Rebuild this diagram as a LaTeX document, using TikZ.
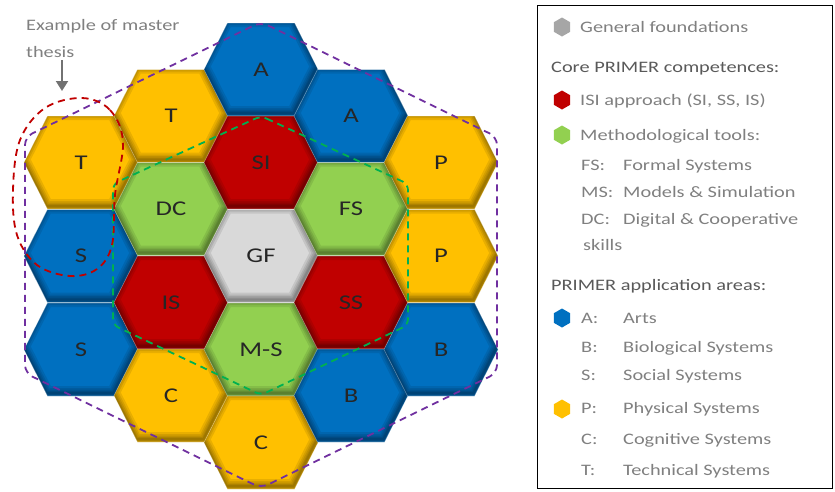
\documentclass[tikz,border=0pt]{standalone}
\usepackage{fontspec}
\setmainfont{Carlito}[FakeStretch=1.27]
\usetikzlibrary{arrows.meta,shapes.geometric}
\definecolor{hblue}{HTML}{0070C0}
\definecolor{hred}{HTML}{C00000}
\definecolor{hgreen}{HTML}{92D050}
\definecolor{hyellow}{HTML}{FFC000}
\definecolor{hgrey}{HTML}{D9D9D9}
\definecolor{lgrey}{HTML}{A6A6A6}
\definecolor{txtgrey}{HTML}{808080}
\definecolor{dkgrey}{HTML}{595959}
\definecolor{dpurple}{HTML}{7030A0}
\definecolor{dgreen}{HTML}{00B050}
\definecolor{dred}{HTML}{C00000}
\tikzset{
  hexlabel/.style={font=\fontsize{21}{25}\selectfont, text=black!85, inner sep=0pt},
  legtext/.style={anchor=west, inner sep=0pt, text height=1.6ex, text depth=0.45ex,
    font=\fontsize{16}{19}\selectfont, text=txtgrey},
  leghead/.style={legtext, text=dkgrey},
  leghex/.style={regular polygon, regular polygon sides=6, shape border rotate=30,
    minimum size=19pt, inner sep=0pt, fill=#1},
  dashline/.style={line width=1.8pt, dash pattern=on 7pt off 5pt},
}
\newcommand{\hexcell}[5]{%
  \begin{scope}[shift={(#1,#2)}]
    \fill[#3] (-57,0) -- (-33.5,-46.5) -- (33.5,-46.5) -- (57,0) -- (33.5,46.5) -- (-33.5,46.5) -- cycle;
    \begin{scope}
      \clip (-57,0) -- (-33.5,-46.5) -- (33.5,-46.5) -- (57,0) -- (33.5,46.5) -- (-33.5,46.5) -- cycle;
      \foreach \w in {14,10,7,4,2}
        \draw[black, opacity=0.09, line width=\w pt, yshift=3pt, xshift=-1pt]
          (-57,0) -- (-33.5,-46.5) -- (33.5,-46.5) -- (57,0) -- (33.5,46.5) -- (-33.5,46.5) -- cycle;
    \end{scope}
    \draw[white, opacity=0.35, line width=0.6pt]
      (-57,0) -- (-33.5,-46.5) -- (33.5,-46.5) -- (57,0) -- (33.5,46.5) -- (-33.5,46.5) -- cycle;
    \node[hexlabel] (#5) at (0,0) {#4};
  \end{scope}}
\begin{document}
\begin{tikzpicture}[x=1pt, y=-1pt]
\useasboundingbox (0,0) rectangle (835,491);
% column 0
\hexcell{81}{162.5}{hyellow}{T}{t1}
\hexcell{81}{256}{hblue}{S}{s1}
\hexcell{81}{349.5}{hblue}{S}{s2}
% column 1
\hexcell{171}{116}{hyellow}{T}{t2}
\hexcell{171}{209}{hgreen}{DC}{dc}
\hexcell{171}{302.5}{hred}{IS}{is}
\hexcell{171}{395.5}{hyellow}{C}{c1}
% column 2
\hexcell{261}{69.5}{hblue}{A}{a1}
\hexcell{261}{162.5}{hred}{SI}{si}
\hexcell{261}{256}{hgrey}{GF}{gf}
\hexcell{261}{349.5}{hgreen}{M-S}{ms}
\hexcell{261}{442.5}{hyellow}{C}{c2}
% column 3
\hexcell{351}{116}{hblue}{A}{a2}
\hexcell{351}{209}{hgreen}{FS}{fs}
\hexcell{351}{302.5}{hred}{SS}{ss}
\hexcell{351}{395.5}{hblue}{B}{b1}
% column 4
\hexcell{441}{162.5}{hyellow}{P}{p1}
\hexcell{441}{256}{hyellow}{P}{p2}
\hexcell{441}{349.5}{hblue}{B}{b2}

% dashed outlines
\draw[dashline, dpurple, rounded corners=8pt]
  (261,22) -- (497,137) -- (497,373) -- (261,488) -- (25,373) -- (25,137) -- cycle;
\draw[dashline, dgreen, rounded corners=6pt]
  (261,116) -- (408,184) -- (408,325) -- (261,395) -- (113,325) -- (113,184) -- cycle;
\draw[dashline, dred] plot[smooth cycle, tension=0.6] coordinates
  {(82,98) (110,110) (123,142) (115,195) (112,245) (97,269) (70,276) (37,265) (17,235) (13,190) (20,140) (45,108)};

% annotation
\node[anchor=west, align=left, inner sep=0pt, text=txtgrey, font=\fontsize{16}{27}\selectfont]
  (ex) at (26,38) {Example of master\\thesis};
\coordinate (arrtip) at (62,91);
\draw[-{Triangle[width=12pt,length=10pt]}, line width=2pt, color=dkgrey!85]
  ([yshift=-3pt]ex.south -| arrtip) -- (arrtip);

% legend
\draw[black, line width=0.8pt] (537,5) rectangle (832,488);
\node[leghex=lgrey] (lh1) at (562,27) {};
\node[legtext] (l1) at (580,30) {General foundations};
\node[leghead] (l2) at (551,70) {Core PRIMER competences:};
\node[leghex=hred] (lh2) at (562,100) {};
\node[legtext] (l3) at (580,103) {ISI approach (SI, SS, IS)};
\node[leghex=hgreen] (lh3) at (562,135) {};
\node[legtext] (l4) at (580,138) {Methodological tools:};
\node[legtext] (l5a) at (581,168) {FS:};
\node[legtext] (l5b) at (623,168) {Formal Systems};
\node[legtext] (l6a) at (581,195) {MS:};
\node[legtext] (l6b) at (623,195) {Models \& Simulation};
\node[legtext] (l7a) at (581,222) {DC:};
\node[legtext] (l7b) at (623,222) {Digital \& Cooperative};
\node[legtext] (l8) at (583,248) {skills};
\node[leghead] (l9) at (551,288) {PRIMER application areas:};
\node[leghex=hblue] (lh4) at (562,318) {};
\node[legtext] (l10a) at (581,321) {A:};
\node[legtext] (l10b) at (623,321) {Arts};
\node[legtext] (l11a) at (581,350) {B:};
\node[legtext] (l11b) at (623,350) {Biological Systems};
\node[legtext] (l12a) at (581,378) {S:};
\node[legtext] (l12b) at (623,378) {Social Systems};
\node[leghex=hyellow] (lh5) at (562,409) {};
\node[legtext] (l13a) at (581,411) {P:};
\node[legtext] (l13b) at (623,411) {Physical Systems};
\node[legtext] (l14a) at (581,442) {C:};
\node[legtext] (l14b) at (623,442) {Cognitive Systems};
\node[legtext] (l15a) at (581,473) {T:};
\node[legtext] (l15b) at (623,473) {Technical Systems};
\end{tikzpicture}
\end{document}
